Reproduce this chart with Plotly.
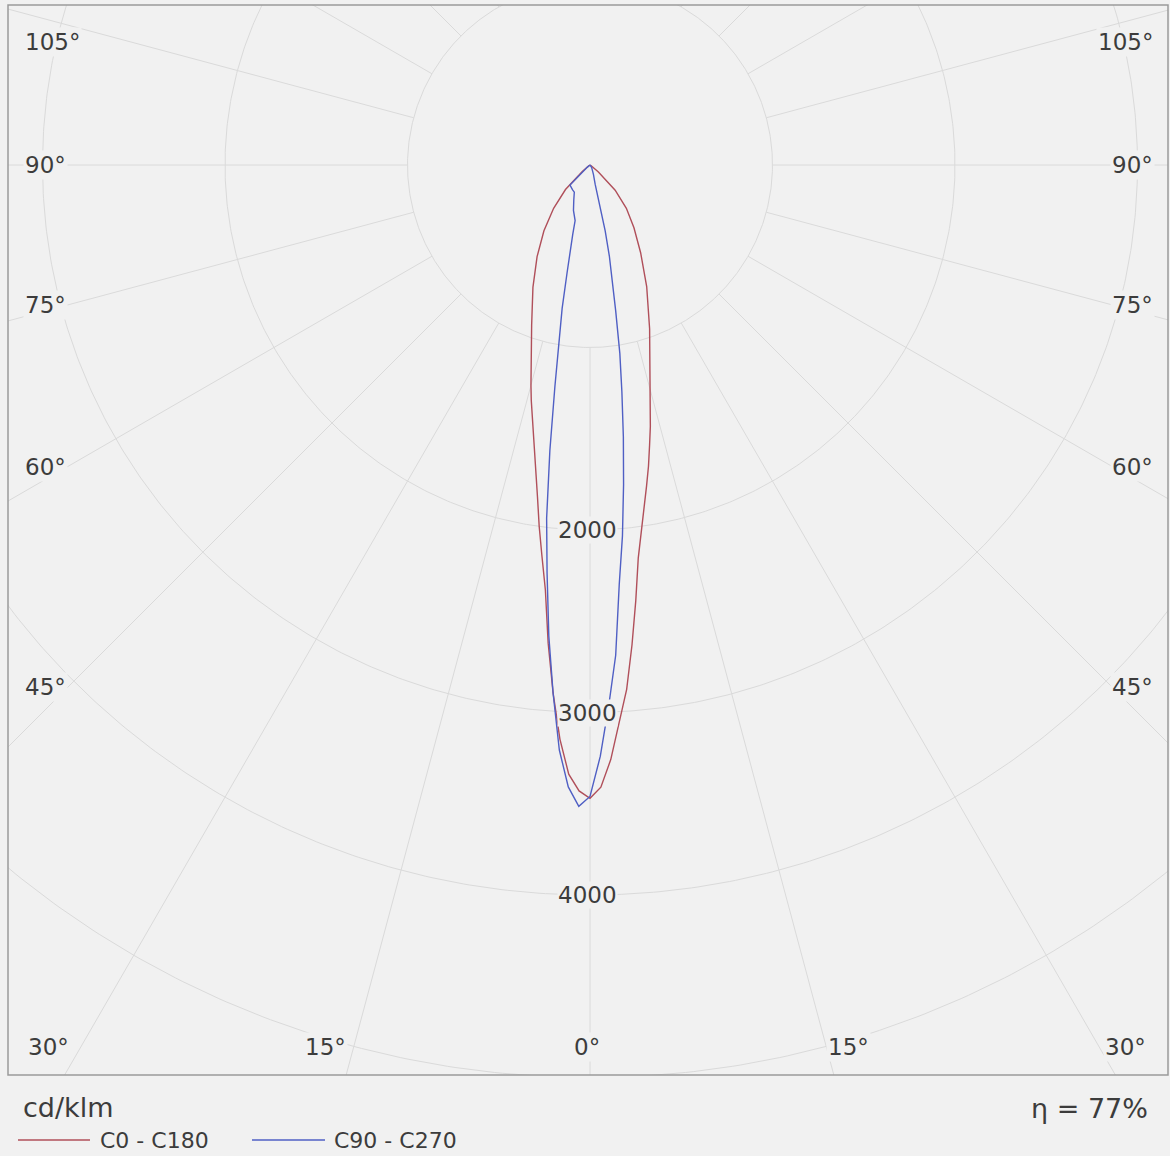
import numpy as np
import plotly.graph_objects as go

# ---------------- data (cd/klm) ----------------
gamma = [0, 1, 2, 3, 4, 5, 6, 7, 8, 9, 10, 11, 12, 13, 14, 15,
         20, 25, 30, 35, 40, 45, 50, 55, 60, 70, 80, 90]

c0 = [3470, 3410, 3260, 3060, 2880, 2640, 2400, 2170, 2030, 1900, 1785, 1680, 1570, 1470, 1370, 1270,
      955, 735, 555, 420, 310, 195, 60, 10, 0, 0, 0, 0]
c180 = [3470, 3430, 3340, 3150, 2900, 2630, 2340, 2160, 2000, 1840, 1710, 1600, 1495, 1410, 1330, 1250,
        935, 740, 580, 440, 310, 190, 55, 10, 0, 0, 0, 0]
c90 = [3460, 3240, 2960, 2690, 2300, 2040, 1760, 1500, 1255, 1045, 810, 630, 510, 370, 180, 110,
       55, 35, 20, 12, 8, 5, 2, 0, 0, 0, 0, 0]
c270 = [3460, 3515, 3410, 3210, 2900, 2590, 2250, 1950, 1580, 1230, 960, 800, 605, 490, 390, 315,
        265, 210, 172, 166, 160, 155, 20, 5, 0, 0, 0, 0]

ring_values = [1000, 2000, 3000, 4000, 5000, 6000, 7000, 8000]
ring_labels = ["2000", "3000", "4000"]
spoke_step = 15
left_angle_labels = ["105°", "90°", "75°", "60°", "45°", "30°"]
bottom_angle_labels = ["15°", "0°", "15°"]
unit_text = "cd/klm"
eta_text = "η = 77%"
series_names = ["C0 - C180", "C90 - C270"]

# ---------------- layout geometry ----------------
W, H = 1170, 1156
L, R, T, B = 8, 1168, 5, 1075          # plot frame in pixels
CX, CY = 590, 165                      # pole position in pixels
S = 0.1825                             # pixels per cd/klm

xr = [(L - CX) / S, (R - CX) / S]
yr = [(CY - B) / S, (CY - T) / S]

def paper_x(px):
    return (px - L) / (R - L)

def paper_y(py):
    return (B - py) / (B - T)

BG = "#f1f1f1"
GRID = "#dadada"
TXT = "#3c3c3c"
RED = "#b04f5a"
BLUE = "#4f5fc4"
FONT = "DejaVu Sans"

fig = go.Figure()

# rings
t = np.linspace(0, 2 * np.pi, 721)
gx, gy = [], []
for r in ring_values:
    gx += list(r * np.sin(t)) + [None]
    gy += list(r * np.cos(t)) + [None]
# spokes (starting at the first ring)
for a in range(0, 360, spoke_step):
    ar = np.radians(a)
    gx += [ring_values[0] * np.sin(ar), 9000 * np.sin(ar), None]
    gy += [-ring_values[0] * np.cos(ar), -9000 * np.cos(ar), None]
fig.add_trace(go.Scatter(x=gx, y=gy, mode="lines", line=dict(color=GRID, width=1),
                         hoverinfo="skip", showlegend=False))

def curve(right, left):
    g = np.radians(np.array(gamma, dtype=float))
    rr = np.array(right, dtype=float)
    ll = np.array(left, dtype=float)
    xs = list((rr * np.sin(g))[::-1]) + list(-ll * np.sin(g))
    ys = list((-rr * np.cos(g))[::-1]) + list(-ll * np.cos(g))
    return xs, ys

x1, y1 = curve(c0, c180)
fig.add_trace(go.Scatter(x=x1, y=y1, mode="lines", name=series_names[0],
                         line=dict(color=RED, width=1.4), showlegend=False))
x2, y2 = curve(c90, c270)
fig.add_trace(go.Scatter(x=x2, y=y2, mode="lines", name=series_names[1],
                         line=dict(color=BLUE, width=1.4), showlegend=False))

ann = []
# radial labels on the 0° spoke
for lab in ring_labels:
    v = float(lab)
    ann.append(dict(x=-15, y=-v, xref="x", yref="y", text=lab, showarrow=False,
                    font=dict(family=FONT, size=23, color=TXT), bgcolor=BG,
                    borderpad=0, xanchor="center", yanchor="middle"))

# side angle labels
side_y = [42, 165, 305, 467, 687, 1047]
for lab, py in zip(left_angle_labels, side_y):
    if lab == "30°":
        continue
    ann.append(dict(x=paper_x(23), y=paper_y(py), xref="paper", yref="paper", text=lab,
                    showarrow=False, font=dict(family=FONT, size=23, color=TXT), bgcolor=BG,
                    xanchor="left", yanchor="middle", borderpad=1))
    ann.append(dict(x=paper_x(1155), y=paper_y(py), xref="paper", yref="paper", text=lab,
                    showarrow=False, font=dict(family=FONT, size=23, color=TXT), bgcolor=BG,
                    xanchor="right", yanchor="middle", borderpad=1))
# bottom angle labels
bottom = [(48, "30°"), (325, bottom_angle_labels[0]), (587, bottom_angle_labels[1]),
          (848, bottom_angle_labels[2]), (1125, "30°")]
for px, lab in bottom:
    ann.append(dict(x=paper_x(px), y=paper_y(1047), xref="paper", yref="paper", text=lab,
                    showarrow=False, font=dict(family=FONT, size=23, color=TXT), bgcolor=BG,
                    xanchor="center", yanchor="middle", borderpad=1))

# footer texts
ann.append(dict(x=paper_x(21), y=paper_y(1107), xref="paper", yref="paper", text=unit_text,
                showarrow=False, font=dict(family=FONT, size=27, color=TXT),
                xanchor="left", yanchor="middle"))
ann.append(dict(x=paper_x(1150), y=paper_y(1108), xref="paper", yref="paper", text=eta_text,
                showarrow=False, font=dict(family=FONT, size=27, color=TXT),
                xanchor="right", yanchor="middle"))
ann.append(dict(x=paper_x(98), y=paper_y(1140), xref="paper", yref="paper", text=series_names[0],
                showarrow=False, font=dict(family=FONT, size=22, color=TXT),
                xanchor="left", yanchor="middle"))
ann.append(dict(x=paper_x(332), y=paper_y(1140), xref="paper", yref="paper", text=series_names[1],
                showarrow=False, font=dict(family=FONT, size=22, color=TXT),
                xanchor="left", yanchor="middle"))

shapes = [
    dict(type="line", xref="paper", yref="paper", x0=paper_x(18), x1=paper_x(90),
         y0=paper_y(1140), y1=paper_y(1140), line=dict(color=RED, width=1.3)),
    dict(type="line", xref="paper", yref="paper", x0=paper_x(252), x1=paper_x(325),
         y0=paper_y(1140), y1=paper_y(1140), line=dict(color=BLUE, width=1.3)),
    dict(type="rect", xref="paper", yref="paper", x0=0, x1=1, y0=0, y1=1,
         line=dict(color="#9a9a9a", width=1.5)),
]

fig.update_layout(
    width=W, height=H,
    margin=dict(l=L, r=W - R, t=T, b=H - B, pad=0),
    paper_bgcolor=BG, plot_bgcolor=BG,
    xaxis=dict(range=xr, visible=False, fixedrange=True),
    yaxis=dict(range=yr, visible=False, fixedrange=True),
    annotations=ann, shapes=shapes, showlegend=False,
)

fig.write_html("out.html", config={"displayModeBar": False},
               post_script="document.body.style.margin='0px';document.body.style.overflow='hidden';"
                           "document.body.style.background='%s';" % BG)
